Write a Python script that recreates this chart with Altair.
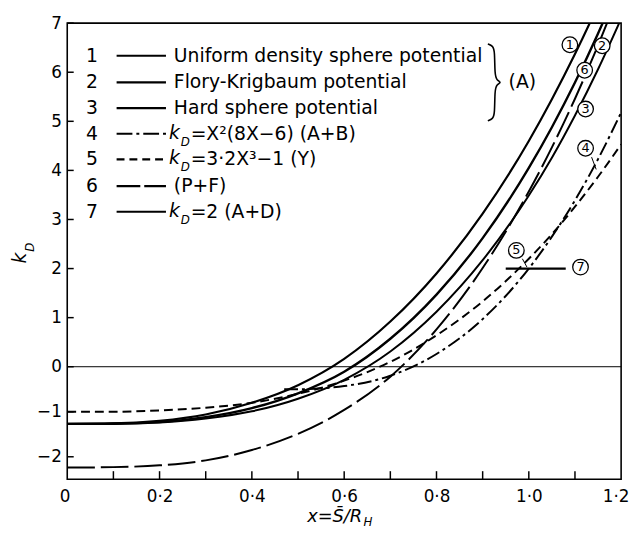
import altair as alt
import pandas as pd

# ---------------- data ----------------
x_grid = [0, 0.1, 0.2, 0.3, 0.4, 0.5, 0.6, 0.7, 0.8, 0.9, 1.0, 1.05, 1.1, 1.15, 1.2]
uniform_sphere = [-1.27, -1.26, -1.20, -1.06, -0.80, -0.41, 0.16, 0.92, 1.90, 3.12, 4.60, 5.45, 6.37, 7.37, 8.45]
flory_krigbaum = [-1.27, -1.26, -1.23, -1.12, -0.92, -0.59, -0.11, 0.57, 1.47, 2.62, 4.05, 4.88, 5.79, 6.79, 7.88]
hard_sphere = [-1.27, -1.27, -1.24, -1.15, -0.99, -0.71, -0.29, 0.31, 1.12, 2.17, 3.49, 4.26, 5.12, 6.06, 7.09]
p_f = [-2.24, -2.23, -2.19, -2.08, -1.85, -1.49, -0.96, -0.22, 0.76, 2.01, 3.57, 4.47, 5.46, 6.55, 7.73]
yamakawa = [-1.00, -1.00, -0.97, -0.91, -0.80, -0.60, -0.31, 0.10, 0.64, 1.33, 2.20, 2.70, 3.26, 3.87, 4.53]
ab_x = [0.47, 0.5, 0.55, 0.6, 0.7, 0.8, 0.9, 1.0, 1.05, 1.1, 1.15, 1.2]
ab_vals = [-0.50, -0.50, -0.48, -0.43, -0.20, 0.26, 0.97, 2.00, 2.65, 3.39, 4.23, 5.18]
ad_x = [0.95, 1.08]
ad_vals = [2.0, 2.0]

x_label_values = [0, 0.2, 0.4, 0.6, 0.8, 1.0, 1.2]
x_tick_values = [0.1, 0.2, 0.3, 0.4, 0.5, 0.6, 0.7, 0.8, 0.9, 1.0, 1.1]
y_tick_values = [-2, -1, 0, 1, 2, 3, 4, 5, 6, 7]

legend_numbers = ["1", "2", "3", "4", "5", "6", "7"]
legend_texts = ["Uniform density sphere potential", "Flory-Krigbaum potential",
                "Hard sphere potential", "=X²(8X−6) (A+B)", "=3·2X³−1 (Y)", "(P+F)", "=2 (A+D)"]

marker_labels = ["1", "2", "6", "3", "4", "5", "7"]
marker_x = [1.089, 1.159, 1.121, 1.123, 1.123, 0.973, 1.112]
marker_y = [6.56, 6.54, 6.04, 5.25, 4.45, 2.37, 2.03]

# ---------------- tables ----------------
rows = []
for name, xs, ys in [("1", x_grid, uniform_sphere), ("2", x_grid, flory_krigbaum),
                     ("3", x_grid, hard_sphere), ("6", x_grid, p_f),
                     ("5", x_grid, yamakawa), ("4", ab_x, ab_vals), ("7", ad_x, ad_vals)]:
    for xv, yv in zip(xs, ys):
        rows.append({"series": name, "x": xv, "y": yv})
df = pd.DataFrame(rows)

W, H = 561, 462
xscale = alt.Scale(domain=[0, 1.2], nice=False, zero=False)
yscale = alt.Scale(domain=[-2.5, 0, 7], range=[H, 348, 0], nice=False, zero=False)
xaxis = alt.Axis(values=x_label_values, ticks=False, domain=False, grid=False, title=None,
                 labelExpr="datum.value == 0 ? '0' : replace(format(datum.value, '.1f'), '.', '·')",
                 labelFontSize=17, labelPadding=10, labelFlush=True, labelFlushOffset=8)
yaxis = alt.Axis(values=y_tick_values, ticks=False, domain=False, grid=False, title=None,
                 labelFontSize=17, labelPadding=6)
X = alt.X("x:Q", scale=xscale, axis=xaxis)
Y = alt.Y("y:Q", scale=yscale, axis=yaxis)

styles = {
    "1": dict(strokeWidth=2.2),
    "2": dict(strokeWidth=2.4),
    "3": dict(strokeWidth=2.0),
    "6": dict(strokeWidth=2.0, strokeDash=[28, 6]),
    "5": dict(strokeWidth=2.0, strokeDash=[9, 5]),
    "4": dict(strokeWidth=2.0, strokeDash=[14, 4, 3, 4]),
    "7": dict(strokeWidth=2.2),
}
layers = []
for name, st in styles.items():
    layers.append(
        alt.Chart(df).transform_filter(alt.datum.series == name)
        .mark_line(color="black", interpolate="monotone", clip=True, **st)
        .encode(x=X, y=Y)
    )

# zero line
zero_df = pd.DataFrame({"x": [0], "x2": [1.2], "y": [0]})
layers.append(alt.Chart(zero_df).mark_rule(color="black", strokeWidth=1)
              .encode(x=X, x2="x2:Q", y=Y))

# ticks (inward)
yt = pd.DataFrame({"x": [0] * len(y_tick_values), "x2": [0.014] * len(y_tick_values), "y": y_tick_values})
layers.append(alt.Chart(yt).mark_rule(color="black", strokeWidth=1.5).encode(x=X, x2="x2:Q", y=Y))
xt = pd.DataFrame({"x": x_tick_values, "y": [-2.5] * len(x_tick_values), "y2": [-2.32] * len(x_tick_values)})
layers.append(alt.Chart(xt).mark_rule(color="black", strokeWidth=1.5).encode(x=X, y=Y, y2="y2:Q"))

# circled labels on the curves
mk = pd.DataFrame({"x": marker_x, "y": marker_y, "t": marker_labels})
layers.append(alt.Chart(mk).mark_point(shape="circle", size=250, filled=True, fill="white",
                                       stroke="black", strokeWidth=1.3, opacity=1)
              .encode(x=X, y=Y))
layers.append(alt.Chart(mk).mark_text(fontSize=13, font="DejaVu Sans", color="black",
                                      align="center", baseline="middle")
              .encode(x=X, y=Y, text="t:N"))
leaders = pd.DataFrame({"x": [1.136, 0.986], "x2": [1.146, 0.996], "y": [4.27, 2.20], "y2": [4.02, 2.03]})
layers.append(alt.Chart(leaders).mark_rule(color="black", strokeWidth=1)
              .encode(x=X, x2="x2:Q", y=Y, y2="y2:Q"))

# ---------------- legend block (pixel positions) ----------------
PX = alt.X("px:Q", scale=None, axis=None)
PY = alt.Y("py:Q", scale=None, axis=None)
row_y = [33, 60, 86, 112, 138, 165, 191]

num_df = pd.DataFrame({"px": [25] * 7, "py": row_y, "t": legend_numbers})
layers.append(alt.Chart(num_df).mark_text(fontSize=19, align="center", baseline="middle", color="black")
              .encode(x=PX, y=PY, text="t:N"))

legend_dash = {0: None, 1: None, 2: None, 3: [16, 4, 3, 4], 4: [8, 5], 5: [24, 4], 6: None}
for i, yy in enumerate(row_y):
    seg = pd.DataFrame({"px": [50], "px2": [100], "py": [yy]})
    kw = dict(color="black", strokeWidth=2.2)
    if legend_dash[i]:
        kw["strokeDash"] = legend_dash[i]
    layers.append(alt.Chart(seg).mark_rule(**kw).encode(x=PX, x2="px2:Q", y=PY))

plain_idx = [0, 1, 2, 5]
plain_df = pd.DataFrame({"px": [108] * 4, "py": [row_y[i] for i in plain_idx],
                         "t": [legend_texts[i] for i in plain_idx]})
layers.append(alt.Chart(plain_df).mark_text(fontSize=19, align="left", baseline="middle", color="black")
              .encode(x=PX, y=PY, text="t:N"))

k_idx = [3, 4, 6]
k_df = pd.DataFrame({"px": [103] * 3, "py": [row_y[i] - 1 for i in k_idx], "t": ["k"] * 3})
layers.append(alt.Chart(k_df).mark_text(fontSize=19, fontStyle="italic", align="left",
                                        baseline="middle", color="black")
              .encode(x=PX, y=PY, text="t:N"))
d_df = pd.DataFrame({"px": [115] * 3, "py": [row_y[i] + 8 for i in k_idx], "t": ["D"] * 3})
layers.append(alt.Chart(d_df).mark_text(fontSize=12, fontStyle="italic", align="left",
                                        baseline="middle", color="black")
              .encode(x=PX, y=PY, text="t:N"))
rest_df = pd.DataFrame({"px": [125] * 3, "py": [row_y[i] for i in k_idx], "t": [legend_texts[i] for i in k_idx]})
layers.append(alt.Chart(rest_df).mark_text(fontSize=19, align="left", baseline="middle", color="black")
              .encode(x=PX, y=PY, text="t:N"))

# brace and (A)
brace_df = pd.DataFrame({
    "px": [426, 431, 433, 433, 435, 440, 435, 433, 433, 431, 426],
    "py": [21, 23, 28, 52, 58, 60, 62, 68, 92, 97, 99],
    "o": list(range(11)),
})
layers.append(alt.Chart(brace_df).mark_line(color="black", strokeWidth=1.6, interpolate="basis")
              .encode(x=PX, y=PY, order="o:O"))
a_df = pd.DataFrame({"px": [447], "py": [60], "t": ["(A)"]})
layers.append(alt.Chart(a_df).mark_text(fontSize=19, align="left", baseline="middle", color="black")
              .encode(x=PX, y=PY, text="t:N"))

# axis titles
yk = pd.DataFrame({"px": [-48], "py": [238], "t": ["k"]})
layers.append(alt.Chart(yk).mark_text(fontSize=19, fontStyle="italic", angle=270, align="center",
                                      baseline="middle", color="black")
              .encode(x=PX, y=PY, text="t:N"))
yd = pd.DataFrame({"px": [-38], "py": [227], "t": ["D"]})
layers.append(alt.Chart(yd).mark_text(fontSize=12, fontStyle="italic", angle=270, align="center",
                                      baseline="middle", color="black")
              .encode(x=PX, y=PY, text="t:N"))
xt1 = pd.DataFrame({"px": [243], "py": [500], "t": ["x=S̄/R"]})
layers.append(alt.Chart(xt1).mark_text(fontSize=18, fontStyle="italic", align="left",
                                       baseline="middle", color="black")
              .encode(x=PX, y=PY, text="t:N"))
xt2 = pd.DataFrame({"px": [300], "py": [505], "t": ["H"]})
layers.append(alt.Chart(xt2).mark_text(fontSize=12, fontStyle="italic", align="left",
                                       baseline="middle", color="black")
              .encode(x=PX, y=PY, text="t:N"))

chart = alt.layer(*layers).properties(
    width=W, height=H,
    autosize=alt.AutoSizeParams(type="none"),
    padding={"left": 60, "top": 12, "right": 10, "bottom": 46},
).configure_view(stroke="black", strokeWidth=1.6).configure_axis(
    labelFont="DejaVu Sans", labelColor="black"
).configure_text(font="DejaVu Sans")

chart.save("out.html", embed_options={"renderer": "svg", "actions": False})
